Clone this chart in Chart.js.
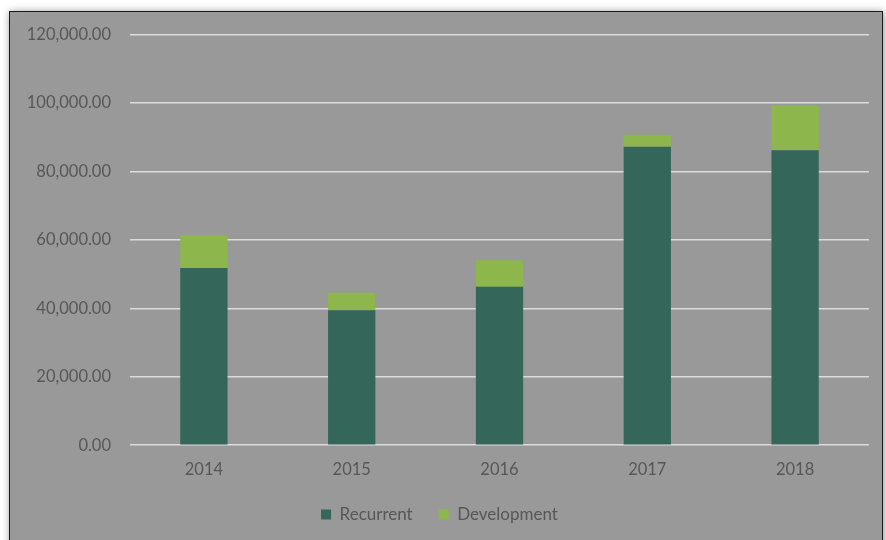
<!DOCTYPE html>
<html>
<head>
<meta charset="utf-8">
<script src="https://cdn.jsdelivr.net/npm/chart.js@4"></script>
<style>
  body { margin: 0; background: #ffffff; overflow: hidden; }
  #frame {
    position: absolute; left: 9px; top: 11px; width: 872px; height: 560px;
    background: #999999; border: 1.5px solid #1a1a1a;
    box-shadow: 1px 1px 8px rgba(0, 0, 0, 0.45);
  }
  #wrap { position: absolute; left: 0; top: 0; width: 872px; height: 528px; }
</style>
</head>
<body>
<div id="frame"><div id="wrap"><canvas id="budgetChart"></canvas></div></div>
<script>
const years = ["2014", "2015", "2016", "2017", "2018"];
const recurrent = [51750, 39400, 46300, 87200, 86200];
const development = [9600, 5150, 7750, 3500, 13100];
const yTicks = [0, 20000, 40000, 60000, 80000, 100000, 120000];

document.addEventListener("DOMContentLoaded", function () {
  const ctx = document.getElementById("budgetChart");
  if (!ctx) return;

  const textColor = "#575757";
  const font = { family: "Lato", size: 16.5 };

  new Chart(ctx, {
    type: "bar",
    data: {
      labels: years,
      datasets: [
        {
          label: "Recurrent",
          data: recurrent,
          backgroundColor: "#35665A",
          barPercentage: 0.32,
          categoryPercentage: 1
        },
        {
          label: "Development",
          data: development,
          backgroundColor: "#8DB64D",
          barPercentage: 0.32,
          categoryPercentage: 1
        }
      ]
    },
    options: {
      responsive: true,
      maintainAspectRatio: false,
      animation: false,
      layout: { padding: { left: 0, right: 13, top: 22.5, bottom: 7 } },
      scales: {
        x: {
          stacked: true,
          // pull the legend up closer to the year labels
          afterFit: function (scale) { scale.height = scale.height - 15; },
          grid: { display: false, drawTicks: false },
          border: { display: false },
          ticks: { color: textColor, font: font, padding: 15 }
        },
        y: {
          stacked: true,
          min: 0,
          max: 120000,
          afterBuildTicks: function (scale) {
            scale.ticks = yTicks.map(function (v) { return { value: v }; });
          },
          afterFit: function (scale) {
            scale.width = 120;
            scale.paddingTop = 0;
            scale.paddingBottom = 0;
          },
          grid: { color: "#dcdcdc", lineWidth: 1.5, drawTicks: false },
          border: { display: false },
          ticks: {
            color: textColor,
            font: font,
            padding: 19,
            callback: function (value) {
              return Number(value).toLocaleString("en-US", { minimumFractionDigits: 2, maximumFractionDigits: 2 });
            }
          }
        }
      },
      plugins: {
        legend: {
          position: "bottom",
          labels: { color: textColor, font: { family: "Lato", size: 17 }, boxWidth: 10, boxHeight: 10, padding: 26 }
        },
        tooltip: { enabled: false }
      }
    }
  });
});
</script>
</body>
</html>
